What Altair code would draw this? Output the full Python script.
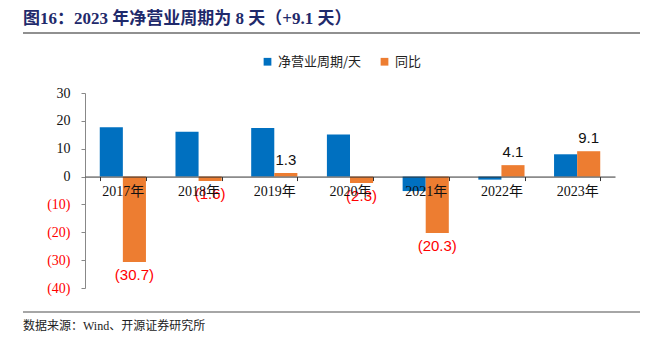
import altair as alt
import pandas as pd

years = ["2017年", "2018年", "2019年", "2020年", "2021年", "2022年", "2023年"]
cycle_days = [17.7, 16.1, 17.4, 15.1, -5.2, -1.1, 8.0]
yoy = [-30.7, -1.6, 1.3, -2.3, -20.3, 4.1, 9.1]
series_names = ["净营业周期/天", "同比"]
colors = ["#0070C0", "#ED7D31"]
y_ticks = [-40, -30, -20, -10, 0, 10, 20, 30]

rows = []
for y, a, b in zip(years, cycle_days, yoy):
    rows.append({"year": y, "series": series_names[0], "value": a})
    rows.append({"year": y, "series": series_names[1], "value": b})
df = pd.DataFrame(rows)

W, H = 530, 195
x_off = -H * 40 / 70

x_enc = alt.X("year:N", sort=years,
              scale=alt.Scale(paddingInner=0.39, paddingOuter=0.195),
              axis=alt.Axis(title=None, labelAngle=0, offset=x_off, tickBand="extent",
                            labelFont="Liberation Serif, Noto Sans CJK SC", labelFontSize=14,
                            labelColor="#111111", labelPadding=4, tickSize=4, zindex=1,
                            labelOverlap=False,
                            domainColor="#333333", tickColor="#333333"))
y_enc = alt.Y("value:Q", scale=alt.Scale(domain=[-40, 30], nice=False),
              axis=alt.Axis(title=None, values=y_ticks, grid=False, tickSize=4,
                            labelOverlap=False, tickCount=8,
                            labelExpr="datum.value < 0 ? '(' + abs(datum.value) + ')' : datum.label",
                            labelColor=alt.condition("datum.value < 0", alt.value("#FF0000"), alt.value("#111111")),
                            labelFont="Liberation Serif", labelFontSize=14, labelPadding=11,
                            domainColor="#888888", tickColor="#888888"))
xo = alt.XOffset("series:N", sort=series_names,
                 scale=alt.Scale(domain=series_names, paddingInner=0, paddingOuter=0))

bars = alt.Chart(df).mark_bar().encode(
    x=x_enc, y=y_enc, xOffset=xo,
    color=alt.Color("series:N", sort=series_names,
                    scale=alt.Scale(domain=series_names, range=colors),
                    legend=alt.Legend(title=None, orient="none", legendX=176, legendY=-38,
                                      direction="horizontal", symbolType="square", symbolSize=60,
                                      labelFont="Noto Sans CJK SC", labelFontSize=13,
                                      labelColor="#222222", columnPadding=16, symbolStrokeWidth=0))
)

base_txt = alt.Chart(df).transform_filter(alt.datum.series == "同比")
pos_txt = base_txt.transform_filter(alt.datum.value > 0).mark_text(
    baseline="bottom", dy=-5, font="Liberation Sans", fontSize=15, color="#111111"
).encode(x=x_enc, xOffset=xo, y=y_enc,
         text=alt.Text("value:Q", format=".1f"))
neg_txt = base_txt.transform_filter(alt.datum.value < 0).transform_calculate(
    lab="'(' + format(abs(datum.value), '.1f') + ')'"
).mark_text(
    baseline="top", dy=6, font="Liberation Sans", fontSize=15, color="#FF0000"
).encode(x=x_enc, xOffset=xo, y=y_enc, text="lab:N")

deco = pd.DataFrame({"k": [0]})
title = alt.Chart(deco).mark_text(
    align="left", baseline="middle", font="Liberation Serif, Noto Sans CJK SC",
    fontSize=17, fontWeight="bold", color="#1F2A6B",
    text="图16：2023 年净营业周期为 8 天（+9.1 天）"
).encode(x=alt.value(-62), y=alt.value(-74))
top_rule = alt.Chart(deco).mark_rule(color="#222222", strokeWidth=1.2).encode(
    x=alt.value(-62), x2=alt.value(555), y=alt.value(-60))
bot_rule = alt.Chart(deco).mark_rule(color="#888888", strokeWidth=1.5).encode(
    x=alt.value(-62), x2=alt.value(555), y=alt.value(219))
source = alt.Chart(deco).mark_text(
    align="left", baseline="middle", font="Liberation Serif, Noto Sans CJK SC",
    fontSize=12, color="#222222", text="数据来源：Wind、开源证券研究所"
).encode(x=alt.value(-62), y=alt.value(233))

chart = alt.layer(bars, pos_txt, neg_txt, title, top_rule, bot_rule, source).properties(
    width=W, height=H,
    autosize=alt.AutoSizeParams(type="none"),
    padding={"left": 85, "top": 93, "right": 36, "bottom": 53},
).configure_view(stroke=None).configure_axis(labelLimit=200)

chart.save("out.html", embed_options={"renderer": "svg", "actions": False})
